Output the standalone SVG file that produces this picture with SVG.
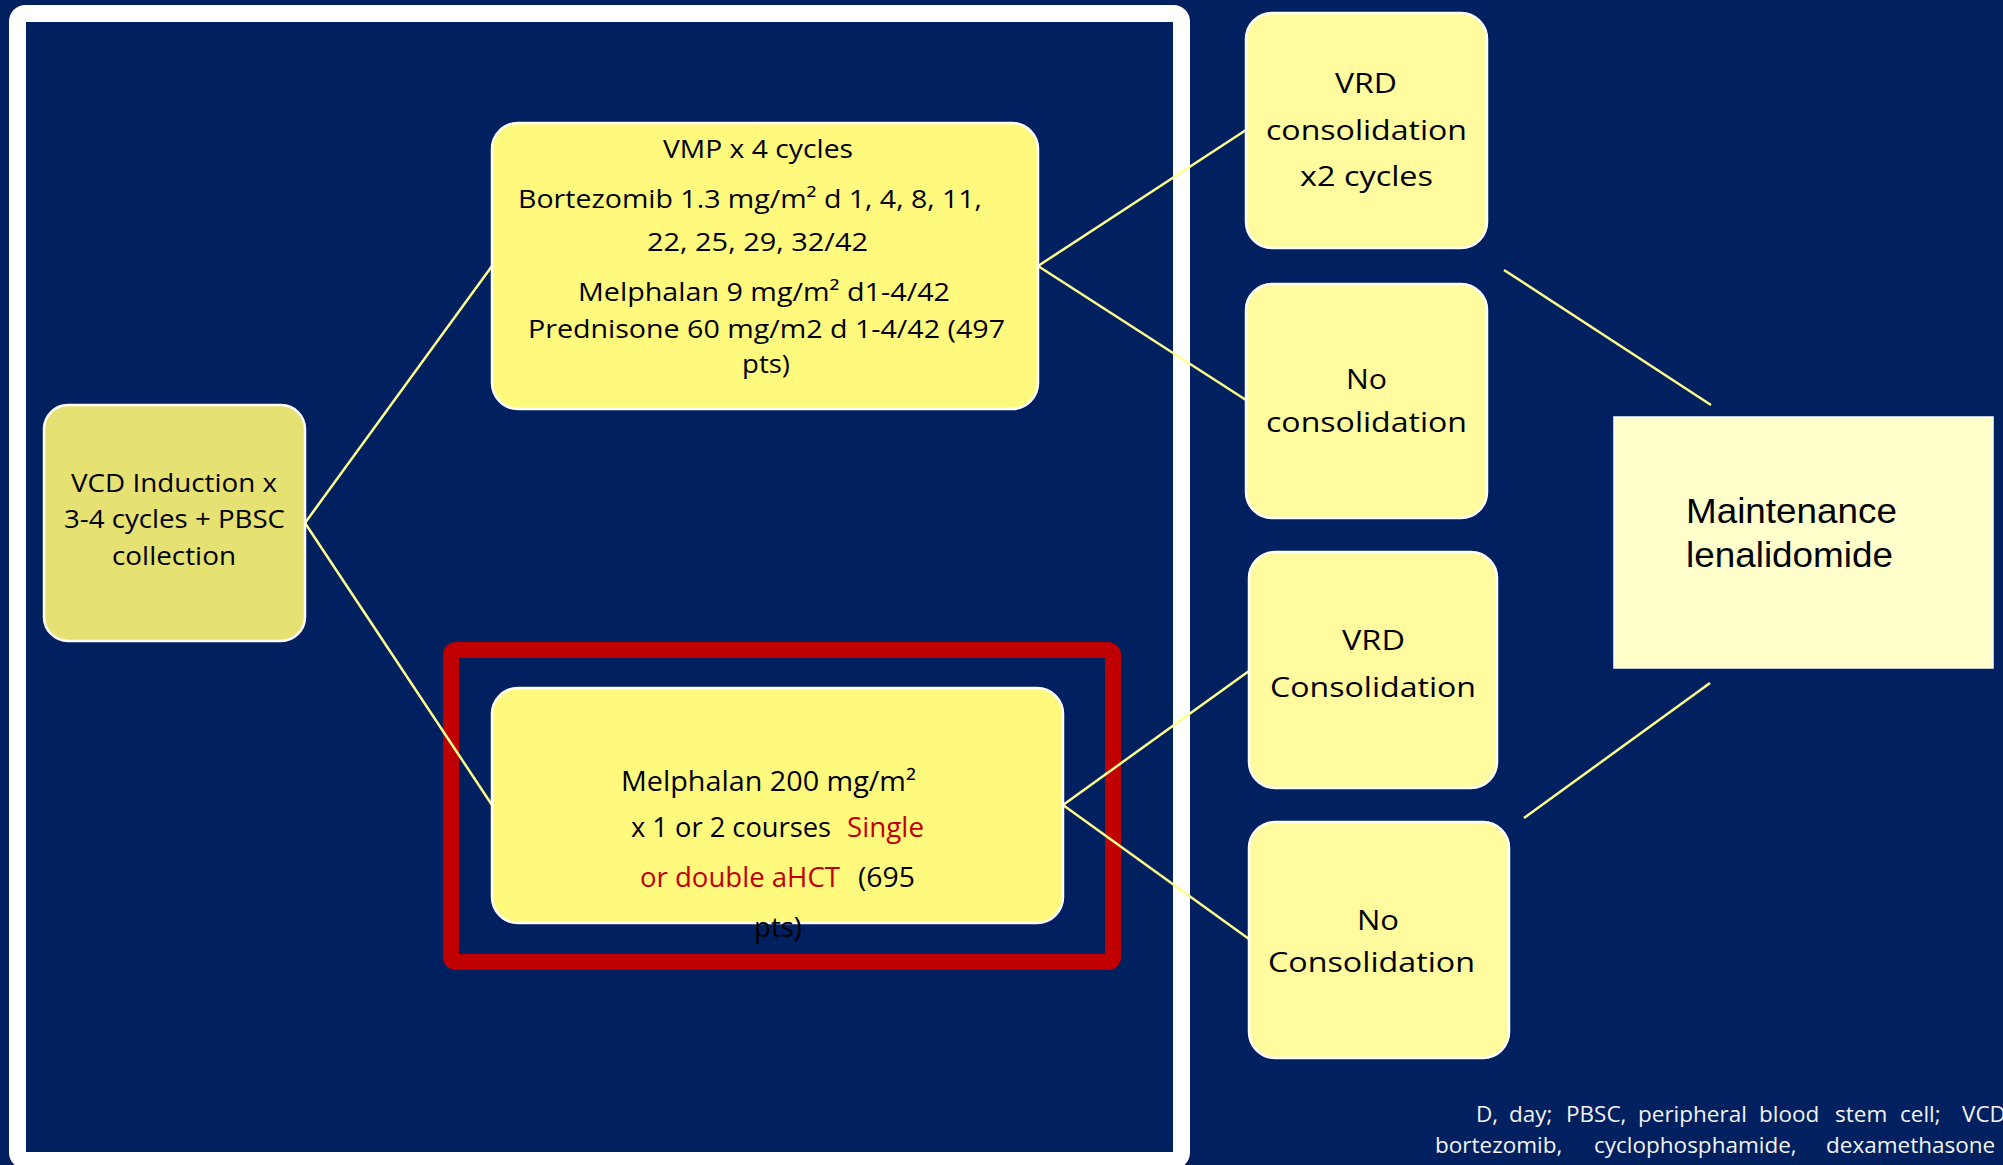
<svg xmlns="http://www.w3.org/2000/svg" width="2003" height="1165" viewBox="0 0 2003 1165">
<style>
.t{font-family:"Open Sans","Liberation Sans",sans-serif;fill:#000;}
.a{font-family:"Liberation Sans",Arial,sans-serif;fill:#000;}
.red{fill:#C00000;}
.fn{font-family:"Open Sans","Liberation Sans",sans-serif;fill:#F2F2F2;font-size:22.5px;}
.box{stroke:#FFFFFF;stroke-width:2.5;}
.conn line{stroke:#FFFF8C;stroke-width:2.5;}
</style>
<rect x="0" y="0" width="2003" height="1165" fill="#01205F"/>
<rect id="frame" x="17.5" y="13.5" width="1164" height="1147" rx="8" fill="none" stroke="#FFFFFF" stroke-width="17"/>
<rect id="highlight" x="451" y="650" width="662" height="312" rx="5" fill="none" stroke="#C00000" stroke-width="16"/>
<g id="connectors" class="conn">
<line x1="305" y1="523" x2="492" y2="266"/>
<line x1="305" y1="523" x2="492" y2="805"/>
<line x1="1038" y1="266" x2="1246" y2="130"/>
<line x1="1038" y1="266" x2="1246" y2="400"/>
<line x1="1063" y1="805" x2="1249" y2="671"/>
<line x1="1063" y1="805" x2="1249" y2="939"/>
<line x1="1504" y1="270" x2="1711" y2="405"/>
<line x1="1710" y1="683" x2="1524" y2="818"/>
</g>
<g id="vcd">
<rect class="box" x="44" y="405" width="261" height="236" rx="24" fill="#E5E173"/>
<text class="t" font-size="26" x="71" y="492" textLength="206" lengthAdjust="spacingAndGlyphs">VCD Induction x</text>
<text class="t" font-size="26" x="64" y="528" textLength="221" lengthAdjust="spacingAndGlyphs">3-4 cycles + PBSC</text>
<text class="t" font-size="26" x="112" y="565" textLength="124" lengthAdjust="spacingAndGlyphs">collection</text>
</g>
<g id="vmp">
<rect class="box" x="492" y="123" width="546" height="286" rx="26" fill="#FFFA7E"/>
<text class="t" font-size="26" x="663" y="158" textLength="190" lengthAdjust="spacingAndGlyphs">VMP x 4 cycles</text>
<text class="t" font-size="26" x="518" y="208" textLength="464" lengthAdjust="spacingAndGlyphs">Bortezomib 1.3 mg/m² d 1, 4, 8, 11,</text>
<text class="t" font-size="26" x="647" y="251" textLength="221" lengthAdjust="spacingAndGlyphs">22, 25, 29, 32/42</text>
<text class="t" font-size="26" x="578" y="301" textLength="372" lengthAdjust="spacingAndGlyphs">Melphalan 9 mg/m² d1-4/42</text>
<text class="t" font-size="26" x="528" y="338" textLength="477" lengthAdjust="spacingAndGlyphs">Prednisone 60 mg/m2 d 1-4/42 (497</text>
<text class="t" font-size="26" x="742" y="373" textLength="48" lengthAdjust="spacingAndGlyphs">pts)</text>
</g>
<g id="mel200">
<rect class="box" x="492" y="688" width="571" height="235" rx="26" fill="#FFFA7E"/>
<text class="t" font-size="27" x="621" y="791" textLength="295" lengthAdjust="spacingAndGlyphs">Melphalan 200 mg/m²</text>
<text class="t" font-size="27" x="631" y="837" textLength="200" lengthAdjust="spacingAndGlyphs">x 1 or 2 courses</text>
<text class="t red" font-size="27" x="847" y="837" textLength="77" lengthAdjust="spacingAndGlyphs">Single</text>
<text class="t red" font-size="27" x="640" y="887" textLength="200" lengthAdjust="spacingAndGlyphs">or double aHCT</text>
<text class="t" font-size="27" x="858" y="887" textLength="57" lengthAdjust="spacingAndGlyphs">(695</text>
<text class="t" font-size="27" x="754" y="937" textLength="48" lengthAdjust="spacingAndGlyphs">pts)</text>
</g>
<g id="vrd1">
<rect class="box" x="1246" y="13" width="241" height="235" rx="26" fill="#FFFB9E"/>
<text class="t" font-size="27" x="1335" y="93" textLength="62" lengthAdjust="spacingAndGlyphs">VRD</text>
<text class="t" font-size="27" x="1266" y="140" textLength="201" lengthAdjust="spacingAndGlyphs">consolidation</text>
<text class="t" font-size="27" x="1300" y="186" textLength="133" lengthAdjust="spacingAndGlyphs">x2 cycles</text>
</g>
<g id="nocons1">
<rect class="box" x="1246" y="284" width="241" height="234" rx="26" fill="#FFFB9E"/>
<text class="t" font-size="27" x="1346" y="389" textLength="41" lengthAdjust="spacingAndGlyphs">No</text>
<text class="t" font-size="27" x="1266" y="432" textLength="201" lengthAdjust="spacingAndGlyphs">consolidation</text>
</g>
<g id="vrd2">
<rect class="box" x="1249" y="552" width="248" height="236" rx="26" fill="#FFFB9E"/>
<text class="t" font-size="27" x="1342" y="650" textLength="63" lengthAdjust="spacingAndGlyphs">VRD</text>
<text class="t" font-size="27" x="1270" y="697" textLength="206" lengthAdjust="spacingAndGlyphs">Consolidation</text>
</g>
<g id="nocons2">
<rect class="box" x="1249" y="822" width="260" height="236" rx="26" fill="#FFFB9E"/>
<text class="t" font-size="27" x="1357" y="930" textLength="42" lengthAdjust="spacingAndGlyphs">No</text>
<text class="t" font-size="27" x="1268" y="972" textLength="207" lengthAdjust="spacingAndGlyphs">Consolidation</text>
</g>
<g id="maintenance">
<rect x="1614" y="417" width="379" height="251" fill="#FFFFCC" stroke="#FFFFFF" stroke-width="1.5"/>
<text class="a" font-size="35" x="1686" y="523" textLength="211" lengthAdjust="spacingAndGlyphs">Maintenance</text>
<text class="a" font-size="35" x="1686" y="567" textLength="207" lengthAdjust="spacingAndGlyphs">lenalidomide</text>
</g>
<g id="footnote">
<text class="fn" y="1122"><tspan x="1476">D,</tspan><tspan x="1509">day;</tspan><tspan x="1566">PBSC,</tspan><tspan x="1638">peripheral</tspan><tspan x="1759">blood</tspan><tspan x="1835">stem</tspan><tspan x="1900">cell;</tspan><tspan x="1962">VCD</tspan></text>
<text class="fn" y="1153"><tspan x="1435">bortezomib,</tspan><tspan x="1594">cyclophosphamide,</tspan><tspan x="1826">dexamethasone</tspan></text>
</g>
</svg>
